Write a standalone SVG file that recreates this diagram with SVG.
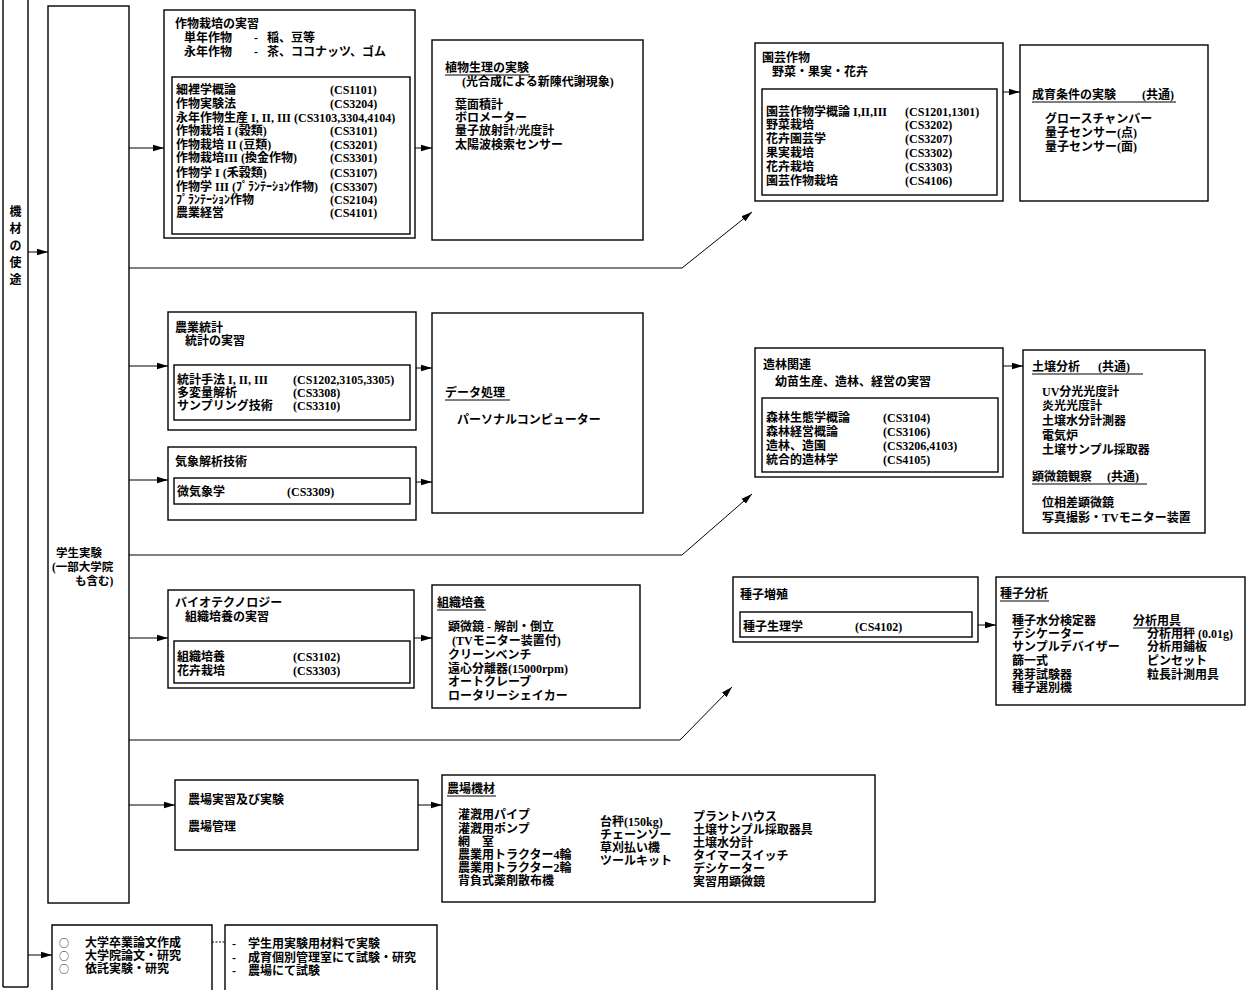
<svg xmlns="http://www.w3.org/2000/svg" width="1248" height="990" viewBox="0 0 1248 990">
<style>
.t{font-family:"Liberation Serif","Noto Sans CJK JP",serif;font-size:12px;font-weight:bold;fill:#000}
.s{font-size:11.5px}
.o{font-family:"Noto Sans CJK JP",sans-serif;font-size:10px;font-weight:normal}
.b{fill:none;stroke:#000;stroke-width:1.4}
.c{fill:none;stroke:#000;stroke-width:1}
.u{stroke:#000;stroke-width:1}
</style>
<defs>
<marker id="ah" markerUnits="userSpaceOnUse" markerWidth="12" markerHeight="8" refX="11" refY="4" orient="auto">
<path d="M0,0.8 L11,4 L0,7.2 Z" fill="#000"/>
</marker>
</defs>
<rect width="1248" height="990" fill="#fff"/>

<g id="connectors">
<line class="c" x1="28" y1="252" x2="48" y2="252" marker-end="url(#ah)"/>
<line class="c" x1="28" y1="955" x2="52" y2="955" marker-end="url(#ah)"/>
<line class="c" x1="129" y1="148" x2="164" y2="148" marker-end="url(#ah)"/>
<polyline class="c" points="129,268 682,268 752,212" marker-end="url(#ah)"/>
<line class="c" x1="129" y1="366" x2="168" y2="366" marker-end="url(#ah)"/>
<line class="c" x1="129" y1="480" x2="168" y2="480" marker-end="url(#ah)"/>
<polyline class="c" points="129,555 682,555 752,494" marker-end="url(#ah)"/>
<line class="c" x1="129" y1="638" x2="168" y2="638" marker-end="url(#ah)"/>
<polyline class="c" points="129,740 680,740 732,687" marker-end="url(#ah)"/>
<line class="c" x1="129" y1="805" x2="175" y2="805" marker-end="url(#ah)"/>
<line class="c" x1="415" y1="148" x2="432" y2="148" marker-end="url(#ah)"/>
<line class="c" x1="416" y1="368" x2="432" y2="368" marker-end="url(#ah)"/>
<line class="c" x1="416" y1="482" x2="432" y2="482" marker-end="url(#ah)"/>
<line class="c" x1="414" y1="638" x2="432" y2="638" marker-end="url(#ah)"/>
<line class="c" x1="418" y1="805" x2="442" y2="805" marker-end="url(#ah)"/>
<line class="c" x1="1003" y1="92" x2="1020" y2="92" marker-end="url(#ah)"/>
<line class="c" x1="1003" y1="366" x2="1023" y2="366" marker-end="url(#ah)"/>
<line class="c" x1="978" y1="625" x2="996" y2="625" marker-end="url(#ah)"/>
<line class="c" x1="212" y1="942" x2="225" y2="942" stroke-dasharray="2,1.5"/>
</g>

<g id="usage">
<line class="b" x1="3" y1="0" x2="3" y2="987"/>
<line class="b" x1="28" y1="0" x2="28" y2="987"/>
<line class="b" x1="3" y1="987" x2="28" y2="987"/>
<text class="t" text-anchor="middle" x="15.5" y="216">機</text>
<text class="t" text-anchor="middle" x="15.5" y="233">材</text>
<text class="t" text-anchor="middle" x="15.5" y="250">の</text>
<text class="t" text-anchor="middle" x="15.5" y="267">使</text>
<text class="t" text-anchor="middle" x="15.5" y="284">途</text>
</g>

<g id="student">
<rect class="b" x="48" y="6" width="81" height="897"/>
<text class="t s" x="56" y="557">学生実験</text>
<text class="t s" x="52" y="571">(一部大学院</text>
<text class="t s" x="75" y="585">も含む)</text>
</g>

<g id="crop">
<rect class="b" x="164" y="10" width="251" height="228"/>
<rect class="b" x="172" y="77" width="238" height="157"/>
<text class="t" x="175" y="28">作物栽培の実習</text>
<text class="t" x="184" y="42">単年作物</text><text class="t" x="254" y="42">-</text><text class="t" x="267" y="42">稲、豆等</text>
<text class="t" x="184" y="56">永年作物</text><text class="t" x="254" y="56">-</text><text class="t" x="267" y="56">茶、ココナッツ、ゴム</text>
<text class="t" x="176" y="94">細裡学概論</text><text class="t" x="330" y="94">(CS1101)</text>
<text class="t" x="176" y="108">作物実験法</text><text class="t" x="330" y="108">(CS3204)</text>
<text class="t" x="176" y="122">永年作物生産 I, II, III (CS3103,3304,4104)</text>
<text class="t" x="176" y="135">作物栽培 I (穀類)</text><text class="t" x="330" y="135">(CS3101)</text>
<text class="t" x="176" y="149">作物栽培 II (豆類)</text><text class="t" x="330" y="149">(CS3201)</text>
<text class="t" x="176" y="162">作物栽培III (換金作物)</text><text class="t" x="330" y="162">(CS3301)</text>
<text class="t" x="176" y="177">作物学 I (禾穀類)</text><text class="t" x="330" y="177">(CS3107)</text>
<text class="t" x="176" y="191">作物学 III (ﾌﾟﾗﾝﾃｰｼｮﾝ作物)</text><text class="t" x="330" y="191">(CS3307)</text>
<text class="t" x="176" y="204">ﾌﾟﾗﾝﾃｰｼｮﾝ作物</text><text class="t" x="330" y="204">(CS2104)</text>
<text class="t" x="176" y="217">農業経営</text><text class="t" x="330" y="217">(CS4101)</text>
</g>

<g id="physiology">
<rect class="b" x="432" y="40" width="211" height="200"/>
<text class="t" x="445" y="72">植物生理の実験</text>
<line class="u" x1="445" y1="75" x2="530" y2="75"/>
<text class="t" x="462" y="86">(光合成による新陳代謝現象)</text>
<text class="t" x="455" y="109">葉面積計</text>
<text class="t" x="455" y="122">ボロメーター</text>
<text class="t" x="455" y="135">量子放射計/光度計</text>
<text class="t" x="455" y="149">太陽波検索センサー</text>
</g>

<g id="horticulture">
<rect class="b" x="755" y="43" width="248" height="158"/>
<rect class="b" x="762" y="89" width="235" height="106"/>
<text class="t" x="762" y="62">園芸作物</text>
<text class="t" x="772" y="76">野菜・果実・花卉</text>
<text class="t" x="766" y="116">園芸作物学概論 I,II,III</text><text class="t" x="905" y="116">(CS1201,1301)</text>
<text class="t" x="766" y="129">野菜栽培</text><text class="t" x="905" y="129">(CS3202)</text>
<text class="t" x="766" y="143">花卉園芸学</text><text class="t" x="905" y="143">(CS3207)</text>
<text class="t" x="766" y="157">果実栽培</text><text class="t" x="905" y="157">(CS3302)</text>
<text class="t" x="766" y="171">花卉栽培</text><text class="t" x="905" y="171">(CS3303)</text>
<text class="t" x="766" y="185">園芸作物栽培</text><text class="t" x="905" y="185">(CS4106)</text>
</g>

<g id="growth">
<rect class="b" x="1020" y="45" width="188" height="156"/>
<text class="t" x="1032" y="99">成育条件の実験</text>
<text class="t" x="1142" y="99">(共通)</text>
<line class="u" x1="1032" y1="102" x2="1176" y2="102"/>
<text class="t" x="1045" y="123">グロースチャンバー</text>
<text class="t" x="1045" y="137">量子センサー(点)</text>
<text class="t" x="1045" y="151">量子センサー(面)</text>
</g>

<g id="statistics">
<rect class="b" x="168" y="312" width="248" height="118"/>
<rect class="b" x="174" y="365" width="236" height="55"/>
<text class="t" x="175" y="332">農業統計</text>
<text class="t" x="185" y="345">統計の実習</text>
<text class="t" x="177" y="384">統計手法 I, II, III</text><text class="t" x="293" y="384">(CS1202,3105,3305)</text>
<text class="t" x="177" y="397">多変量解析</text><text class="t" x="293" y="397">(CS3308)</text>
<text class="t" x="177" y="410">サンプリング技術</text><text class="t" x="293" y="410">(CS3310)</text>
</g>

<g id="meteorology">
<rect class="b" x="168" y="447" width="248" height="73"/>
<rect class="b" x="174" y="478" width="236" height="26"/>
<text class="t" x="175" y="466">気象解析技術</text>
<text class="t" x="177" y="496">微気象学</text><text class="t" x="287" y="496">(CS3309)</text>
</g>

<g id="dataproc">
<rect class="b" x="432" y="313" width="211" height="200"/>
<text class="t" x="445" y="397">データ処理</text>
<line class="u" x1="445" y1="400" x2="510" y2="400"/>
<text class="t" x="457" y="424">パーソナルコンピューター</text>
</g>

<g id="forestry">
<rect class="b" x="755" y="348" width="248" height="129"/>
<rect class="b" x="762" y="398" width="236" height="74"/>
<text class="t" x="763" y="369">造林関連</text>
<text class="t" x="775" y="386">幼苗生産、造林、経営の実習</text>
<text class="t" x="766" y="422">森林生態学概論</text><text class="t" x="883" y="422">(CS3104)</text>
<text class="t" x="766" y="436">森林経営概論</text><text class="t" x="883" y="436">(CS3106)</text>
<text class="t" x="766" y="450">造林、造園</text><text class="t" x="883" y="450">(CS3206,4103)</text>
<text class="t" x="766" y="464">統合的造林学</text><text class="t" x="883" y="464">(CS4105)</text>
</g>

<g id="soil">
<rect class="b" x="1023" y="350" width="182" height="183"/>
<text class="t" x="1032" y="371">土壌分析</text>
<text class="t" x="1098" y="371">(共通)</text>
<line class="u" x1="1032" y1="374" x2="1143" y2="374"/>
<text class="t" x="1042" y="396">UV分光光度計</text>
<text class="t" x="1042" y="410">炎光光度計</text>
<text class="t" x="1042" y="425">土壌水分計測器</text>
<text class="t" x="1042" y="440">電気炉</text>
<text class="t" x="1042" y="454">土壌サンプル採取器</text>
<text class="t" x="1032" y="481">顕微鏡観察</text>
<text class="t" x="1107" y="481">(共通)</text>
<line class="u" x1="1032" y1="484" x2="1147" y2="484"/>
<text class="t" x="1042" y="507">位相差顕微鏡</text>
<text class="t" x="1042" y="522">写真撮影・TVモニター装置</text>
</g>

<g id="biotech">
<rect class="b" x="168" y="590" width="246" height="98"/>
<rect class="b" x="174" y="641" width="236" height="42"/>
<text class="t" x="175" y="607">バイオテクノロジー</text>
<text class="t" x="185" y="621">組織培養の実習</text>
<text class="t" x="177" y="661">組織培養</text><text class="t" x="293" y="661">(CS3102)</text>
<text class="t" x="177" y="675">花卉栽培</text><text class="t" x="293" y="675">(CS3303)</text>
</g>

<g id="tissue">
<rect class="b" x="432" y="585" width="208" height="123"/>
<text class="t" x="437" y="607">組織培養</text>
<line class="u" x1="437" y1="610" x2="486" y2="610"/>
<text class="t" x="448" y="631">顕微鏡 - 解剖・倒立</text>
<text class="t" x="452" y="645">(TVモニター装置付)</text>
<text class="t" x="448" y="659">クリーンベンチ</text>
<text class="t" x="448" y="673">遠心分離器(15000rpm)</text>
<text class="t" x="448" y="686">オートクレーブ</text>
<text class="t" x="448" y="700">ロータリーシェイカー</text>
</g>

<g id="seed">
<rect class="b" x="733" y="577" width="245" height="65"/>
<rect class="b" x="740" y="612" width="232" height="25"/>
<text class="t" x="740" y="599">種子増殖</text>
<text class="t" x="743" y="631">種子生理学</text><text class="t" x="855" y="631">(CS4102)</text>
</g>

<g id="seedanalysis">
<rect class="b" x="996" y="577" width="249" height="128"/>
<text class="t" x="1000" y="598">種子分析</text>
<line class="u" x1="1000" y1="601" x2="1049" y2="601"/>
<text class="t" x="1012" y="625">種子水分検定器</text>
<text class="t" x="1012" y="638">デシケーター</text>
<text class="t" x="1012" y="651">サンプルデバイザー</text>
<text class="t" x="1012" y="665">篩一式</text>
<text class="t" x="1012" y="679">発芽試験器</text>
<text class="t" x="1012" y="692">種子選別機</text>
<text class="t" x="1133" y="625">分析用具</text>
<line class="u" x1="1133" y1="628" x2="1183" y2="628"/>
<text class="t" x="1147" y="638">分析用秤 (0.01g)</text>
<text class="t" x="1147" y="651">分析用鋪板</text>
<text class="t" x="1147" y="665">ピンセット</text>
<text class="t" x="1147" y="679">粒長計測用具</text>
</g>

<g id="farm">
<rect class="b" x="175" y="780" width="243" height="70"/>
<text class="t" x="188" y="804">農場実習及び実験</text>
<text class="t" x="188" y="831">農場管理</text>
</g>

<g id="farmequip">
<rect class="b" x="442" y="775" width="433" height="127"/>
<text class="t" x="447" y="793">農場機材</text>
<line class="u" x1="447" y1="796" x2="496" y2="796"/>
<text class="t" x="458" y="819">灌漑用パイプ</text>
<text class="t" x="458" y="833">灌漑用ポンプ</text>
<text class="t" x="458" y="846">網　室</text>
<text class="t" x="458" y="859">農業用トラクター4輪</text>
<text class="t" x="458" y="872">農業用トラクター2輪</text>
<text class="t" x="458" y="885">背負式薬剤散布機</text>
<text class="t" x="600" y="826">台秤(150kg)</text>
<text class="t" x="600" y="839">チェーンソー</text>
<text class="t" x="600" y="852">草刈払い機</text>
<text class="t" x="600" y="865">ツールキット</text>
<text class="t" x="693" y="821">プラントハウス</text>
<text class="t" x="693" y="834">土壌サンプル採取器具</text>
<text class="t" x="693" y="847">土壌水分計</text>
<text class="t" x="693" y="860">タイマースイッチ</text>
<text class="t" x="693" y="873">デシケーター</text>
<text class="t" x="693" y="886">実習用顕微鏡</text>
</g>

<g id="research">
<path class="b" d="M52,990 V925 H212 V990"/>
<text class="t o" x="59" y="947">○</text><text class="t" x="85" y="947">大学卒業論文作成</text>
<text class="t o" x="59" y="960">○</text><text class="t" x="85" y="960">大学院論文・研究</text>
<text class="t o" x="59" y="973">○</text><text class="t" x="85" y="973">依託実験・研究</text>
</g>

<g id="researchplace">
<path class="b" d="M225,990 V925 H437 V990"/>
<text class="t" x="232" y="948">-</text><text class="t" x="248" y="948">学生用実験用材料で実験</text>
<text class="t" x="232" y="962">-</text><text class="t" x="248" y="962">成育個別管理室にて試験・研究</text>
<text class="t" x="232" y="975">-</text><text class="t" x="248" y="975">農場にて試験</text>
</g>
</svg>
